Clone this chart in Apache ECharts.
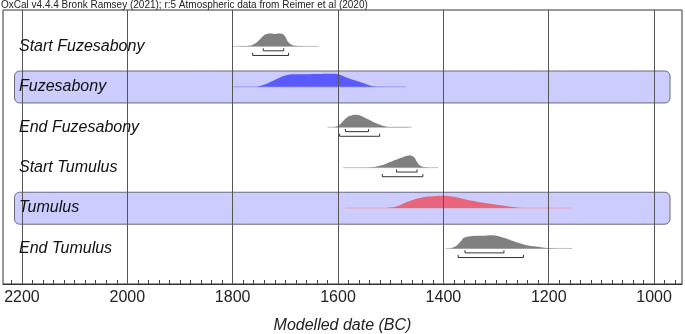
<!DOCTYPE html>
<html>
<head>
<meta charset="utf-8">
<script src="https://cdn.jsdelivr.net/npm/echarts@6/dist/echarts.min.js"></script>
<style>
  html, body { margin: 0; padding: 0; background: #fff; }
  #chart { width: 685px; height: 334px; }
</style>
</head>
<body>
<div id="chart"></div>
<script>
// rows from top to bottom
var rowNames = ['Start Fuzesabony', 'Fuzesabony', 'End Fuzesabony', 'Start Tumulus', 'Tumulus', 'End Tumulus'];
var bandRows = [1, 4];

// probability curves: [year BC, relative height]
var startFuzesabony = [[1800,0],[1780,0.02],[1765,0.06],[1758,0.2],[1752,0.4],[1746,0.65],[1740,0.88],[1734,0.98],[1727,1.0],[1720,0.95],[1713,1.0],[1706,0.97],[1700,0.75],[1695,0.35],[1688,0.12],[1680,0.04],[1665,0.01],[1640,0]];
var fuzesabony = [[1800,0],[1760,0],[1752,0.03],[1741,0.15],[1722,0.49],[1706,0.8],[1694,0.94],[1670,0.96],[1640,0.98],[1610,1.0],[1602,0.99],[1583,0.7],[1564,0.44],[1545,0.18],[1533,0.04],[1525,0],[1472,0]];
var endFuzesabony = [[1620,0],[1606,0.02],[1600,0.12],[1596,0.23],[1586,0.66],[1577,0.88],[1567,0.96],[1558,0.9],[1545,0.65],[1533,0.41],[1520,0.19],[1510,0.06],[1498,0.01],[1460,0]];
var startTumulus = [[1590,0],[1550,0.01],[1533,0.05],[1517,0.18],[1501,0.44],[1485,0.69],[1472,0.87],[1464,0.96],[1456,0.82],[1450,0.44],[1445,0.18],[1437,0.05],[1428,0.01],[1410,0]];
var tumulus = [[1586,0],[1510,0],[1488,0.13],[1469,0.46],[1453,0.69],[1437,0.85],[1418,0.92],[1399,0.95],[1380,0.87],[1361,0.69],[1336,0.48],[1311,0.33],[1285,0.18],[1260,0.05],[1240,0],[1155,0]];
var endTumulus = [[1396,0],[1386,0.02],[1374,0.25],[1366,0.59],[1361,0.82],[1349,0.95],[1329,0.98],[1306,1.02],[1292,0.9],[1272,0.64],[1253,0.38],[1234,0.18],[1215,0.1],[1200,0.03],[1185,0],[1155,0]];

// extent of the thin line under each curve
var baseSpans = [[1800,1637],[1800,1472],[1620,1460],[1590,1410],[1586,1155],[1396,1155]];
// 68.2% and 95.4% ranges
var range68 = [[1742,1703], null, [1586,1542], [1489,1450], null, [1359,1285]];
var range95 = [[1762,1694], null, [1597,1521], [1516,1439], null, [1372,1248]];

var majorYears = [2200, 2000, 1800, 1600, 1400, 1200, 1000];

var curves = [startFuzesabony, fuzesabony, endFuzesabony, startTumulus, tumulus, endTumulus];
var fillColors = ['#808080', '#5a5aff', '#808080', '#808080', '#e8657c', '#808080'];
var baseColors = ['#c0c0c0', '#9a9aff', '#c0c0c0', '#c0c0c0', '#f0a6b4', '#c0c0c0'];

var minorYears = [];
for (var y = 2220; y >= 960; y -= 20) minorYears.push(y);

var AMP = 0.32;
var series = [];

series.push({
	type: 'custom',
	z: 1,
	silent: true,
	data: bandRows.map(function (r) { return [1600, r]; }),
	renderItem: function (params, api) {
		var cs = params.coordSys;
		var row = api.value(1);
		var top = api.coord([1600, row - 0.39])[1];
		var bottom = api.coord([1600, row + 0.4])[1];
		return {
			type: 'rect',
			shape: { x: cs.x + 11.5, y: top, width: cs.width - 23.5, height: bottom - top, r: 5 },
			style: { fill: '#ccccff', stroke: '#6a6a7a', lineWidth: 1 }
		};
	}
});

for (var i = 0; i < curves.length; i++) {
	series.push({
		type: 'line',
		z: 2,
		silent: true,
		showSymbol: false,
		data: [[baseSpans[i][0], i], [baseSpans[i][1], i]],
		lineStyle: { color: baseColors[i], width: 1 }
	});
	series.push({
		type: 'line',
		z: 3,
		silent: true,
		showSymbol: false,
		smooth: 0.3,
		data: curves[i].map(function (p) { return [p[0], i - AMP * p[1]]; }),
		lineStyle: { opacity: 0, width: 0 },
		areaStyle: { color: fillColors[i], opacity: 1, origin: i }
	});
	[[range68[i], 0.11], [range95[i], 0.225]].forEach(function (r) {
		if (!r[0]) return;
		var yy = i + r[1];
		series.push({
			type: 'line',
			z: 4,
			silent: true,
			showSymbol: false,
			data: [[r[0][0], yy - 0.065], [r[0][0], yy], [r[0][1], yy], [r[0][1], yy - 0.065]],
			lineStyle: { color: '#333', width: 1 }
		});
	});
}

// vertical grid lines on top of the bands
series.push({
	type: 'line',
	z: 6,
	silent: true,
	showSymbol: false,
	data: [[1600, 0]],
	lineStyle: { opacity: 0 },
	markLine: {
		silent: true,
		symbol: ['none', 'none'],
		label: { show: false },
		lineStyle: { color: '#555', width: 1, type: 'solid' },
		data: majorYears.map(function (y) { return { xAxis: y }; })
	}
});

var chart = echarts.init(document.getElementById('chart'));
chart.setOption({
	animation: false,
	title: {
		text: 'OxCal v4.4.4 Bronk Ramsey (2021); r:5 Atmospheric data from Reimer et al (2020)',
		left: 1,
		top: 0,
		padding: 0,
		textStyle: { fontSize: 10, fontWeight: 'normal', color: '#222', fontFamily: 'Liberation Sans' }
	},
	grid: {
		left: 3, right: 3, top: 10, bottom: 50,
		show: true,
		borderColor: '#333',
		borderWidth: 1,
		containLabel: false,
		outerBoundsMode: 'none'
	},
	xAxis: {
		type: 'value',
		inverse: true,
		min: 947,
		max: 2236,
		splitLine: { show: false },
		axisLine: { show: true, onZero: false, lineStyle: { color: '#333' } },
		axisTick: { show: true, inside: true, length: 4, customValues: minorYears, lineStyle: { color: '#444' } },
		axisLabel: {
			customValues: majorYears,
			formatter: function (v) { return String(v); },
			fontSize: 16, margin: 6, color: '#222', fontFamily: 'Liberation Sans'
		},
		name: 'Modelled date (BC)',
		nameLocation: 'middle',
		nameGap: 34,
		nameTextStyle: { fontSize: 16, fontStyle: 'italic', color: '#222', fontFamily: 'Liberation Sans' }
	},
	yAxis: {
		type: 'value',
		inverse: true,
		min: -0.9,
		max: 5.88,
		z: 10,
		splitLine: { show: false },
		axisLine: { show: false },
		axisTick: { show: false },
		axisLabel: {
			inside: true,
			margin: 16,
			customValues: [0, 1, 2, 3, 4, 5],
			formatter: function (v) { return rowNames[v] || ''; },
			fontSize: 16,
			fontStyle: 'italic',
			color: '#111',
			fontFamily: 'Liberation Sans'
		}
	},
	series: series
});
</script>
</body>
</html>
